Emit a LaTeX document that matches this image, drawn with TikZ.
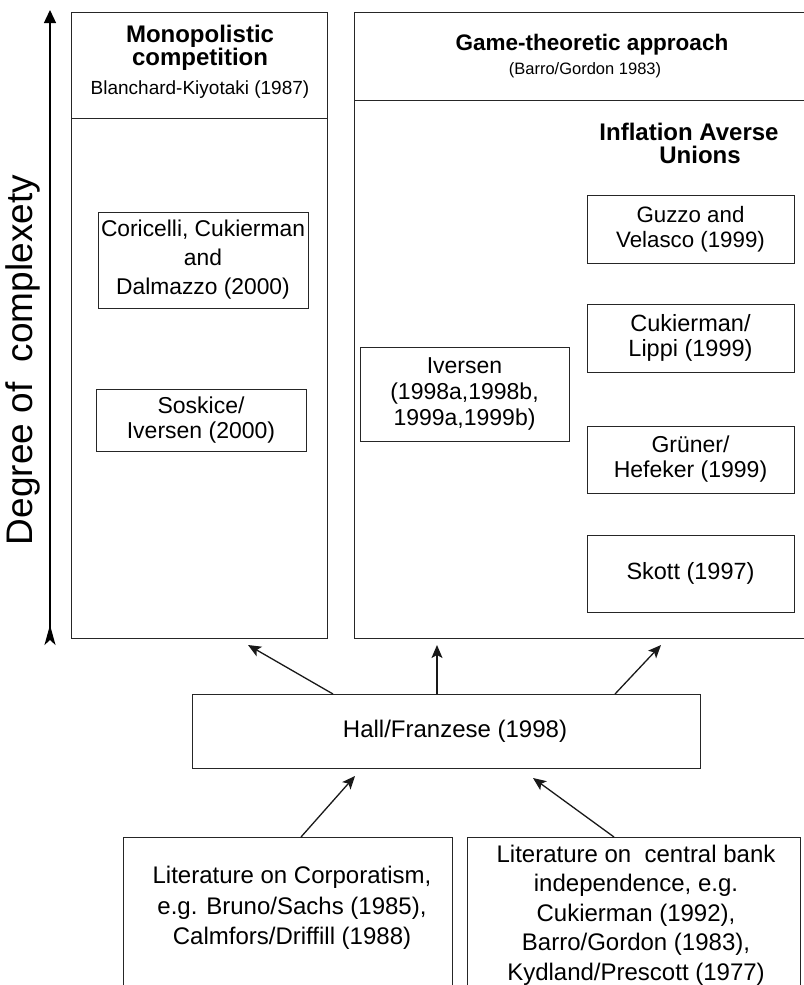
\documentclass[tikz,border=0pt]{standalone}
\usepackage{fontspec}
\setmainfont{Liberation Sans}
\usetikzlibrary{arrows.meta}
\newcommand\fsz[2]{\fontsize{#1}{#2}\selectfont}
\tikzset{
  frame/.style={draw=black!85, line width=0.9pt},
  bx/.style={frame, inner sep=0pt, align=center, font=\fsz{23}{26}},
  txt/.style={inner sep=0pt, align=center},
  hd/.style={anchor=base, inner sep=0pt, font=\fsz{24}{25}\bfseries},
  sub/.style={anchor=base, inner sep=0pt},
  arr/.style={-{Stealth[length=13pt,width=11pt,inset=3pt]}, line width=1.3pt, draw=black!90},
}
\begin{document}
\begin{tikzpicture}[x=1pt,y=-1pt]
\useasboundingbox (0,0) rectangle (803,985);
% big frames
\node[frame, minimum width=256pt, minimum height=626pt, anchor=north west, inner sep=0pt] (mono) at (71,12) {};
\node[frame, minimum width=452pt, minimum height=626pt, anchor=north west, inner sep=0pt] (game) at (354,12) {};
\draw[frame] (71,118) -- (327,118);
\draw[frame] (354,100) -- (806,100);
% headers
\node[hd] (monoA) at (200,42) {Monopolistic};
\node[hd] (monoB) at (200,65) {competition};
\node[sub, font=\fsz{19}{20}] (monoC) at (200,94) {Blanchard-Kiyotaki (1987)};
\node[hd, font=\fsz{22.5}{24}\bfseries] (gameA) at (592,50) {Game-theoretic approach};
\node[sub, font=\fsz{16.5}{18}] (gameB) at (585,74) {(Barro/Gordon 1983)};
\node[hd] (iauA) at (689,140) {Inflation Averse};
\node[hd] (iauB) at (700,163) {Unions};
% axis
\node[rotate=90, font=\fsz{37}{38}, inner sep=0pt] (deg) at (23,360) {Degree of\ \ complexety};
\coordinate (axb) at (50,645);
\coordinate (axt) at (50,10);
\draw[line width=1.3pt, {Stealth[reversed,length=20pt,width=11pt,inset=5pt]}-{Triangle[length=13pt,width=12pt]}] (axb) -- (axt);
% inner boxes
\node[bx, minimum width=210pt, minimum height=96pt, font=\fsz{22.8}{29}] (cori) at (203,260) {Coricelli, Cukierman\\and\\Dalmazzo (2000)};
\node[bx, minimum width=210pt, minimum height=62pt, font=\fsz{23}{25}] (sosk) at (201,420) {Soskice/\\Iversen (2000)};
\node[bx, minimum width=209pt, minimum height=94pt] (ive) at (464.5,394) {Iversen\\(1998a,1998b,\\1999a,1999b)};
\node[bx, minimum width=207pt, minimum height=68pt, font=\fsz{22.3}{25}] (guz) at (690.5,229) {Guzzo and\\Velasco (1999)};
\node[bx, minimum width=207pt, minimum height=68pt, font=\fsz{23.5}{25}] (cuk) at (690.5,338) {Cukierman/\\Lippi (1999)};
\node[bx, minimum width=207pt, minimum height=67pt, font=\fsz{23}{25}] (gru) at (690.5,459.5) {Grüner/\\Hefeker (1999)};
\node[bx, minimum width=207pt, minimum height=77pt, font=\fsz{23.5}{25}] (sko) at (690.5,573.5) {Skott (1997)};
% Hall
\node[frame, minimum width=508pt, minimum height=74pt, inner sep=0pt] (hall) at (446,731) {};
\node[txt, font=\fsz{24}{26}] (hallT) at (455,731) {Hall/Franzese (1998)};
% bottom boxes (open at the bottom edge of the page)
\node[frame, minimum width=329pt, minimum height=160pt, anchor=north west, inner sep=0pt] (corp) at (123,837) {};
\node[frame, minimum width=333pt, minimum height=160pt, anchor=north west, inner sep=0pt] (cbi) at (467,837) {};
\node[txt, font=\fsz{24}{30.5}] (corpT) at (292,908) {Literature on Corporatism,\\e.g. Bruno/Sachs (1985),\\Calmfors/Driffill (1988)};
\node[txt, font=\fsz{24}{29.5}] (cbiT) at (636,915) {Literature on\ \ central bank\\independence, e.g.\\Cukierman (1992),\\Barro/Gordon (1983),\\Kydland/Prescott (1977)};
% arrow end points
\coordinate (h1) at (333,694);
\coordinate (h2) at (437,694);
\coordinate (h3) at (615,694);
\coordinate (t1) at (248,645);
\coordinate (t2) at (437,645);
\coordinate (t3) at (661,645);
\coordinate (b1) at (301,837);
\coordinate (b2) at (614,837);
\coordinate (u1) at (355,776);
\coordinate (u2) at (533,778);
\draw[arr] (h1) -- (t1);
\draw[arr] (h2) -- (t2);
\draw[arr] (h3) -- (t3);
\draw[arr] (b1) -- (u1);
\draw[arr] (b2) -- (u2);
\end{tikzpicture}
\end{document}
